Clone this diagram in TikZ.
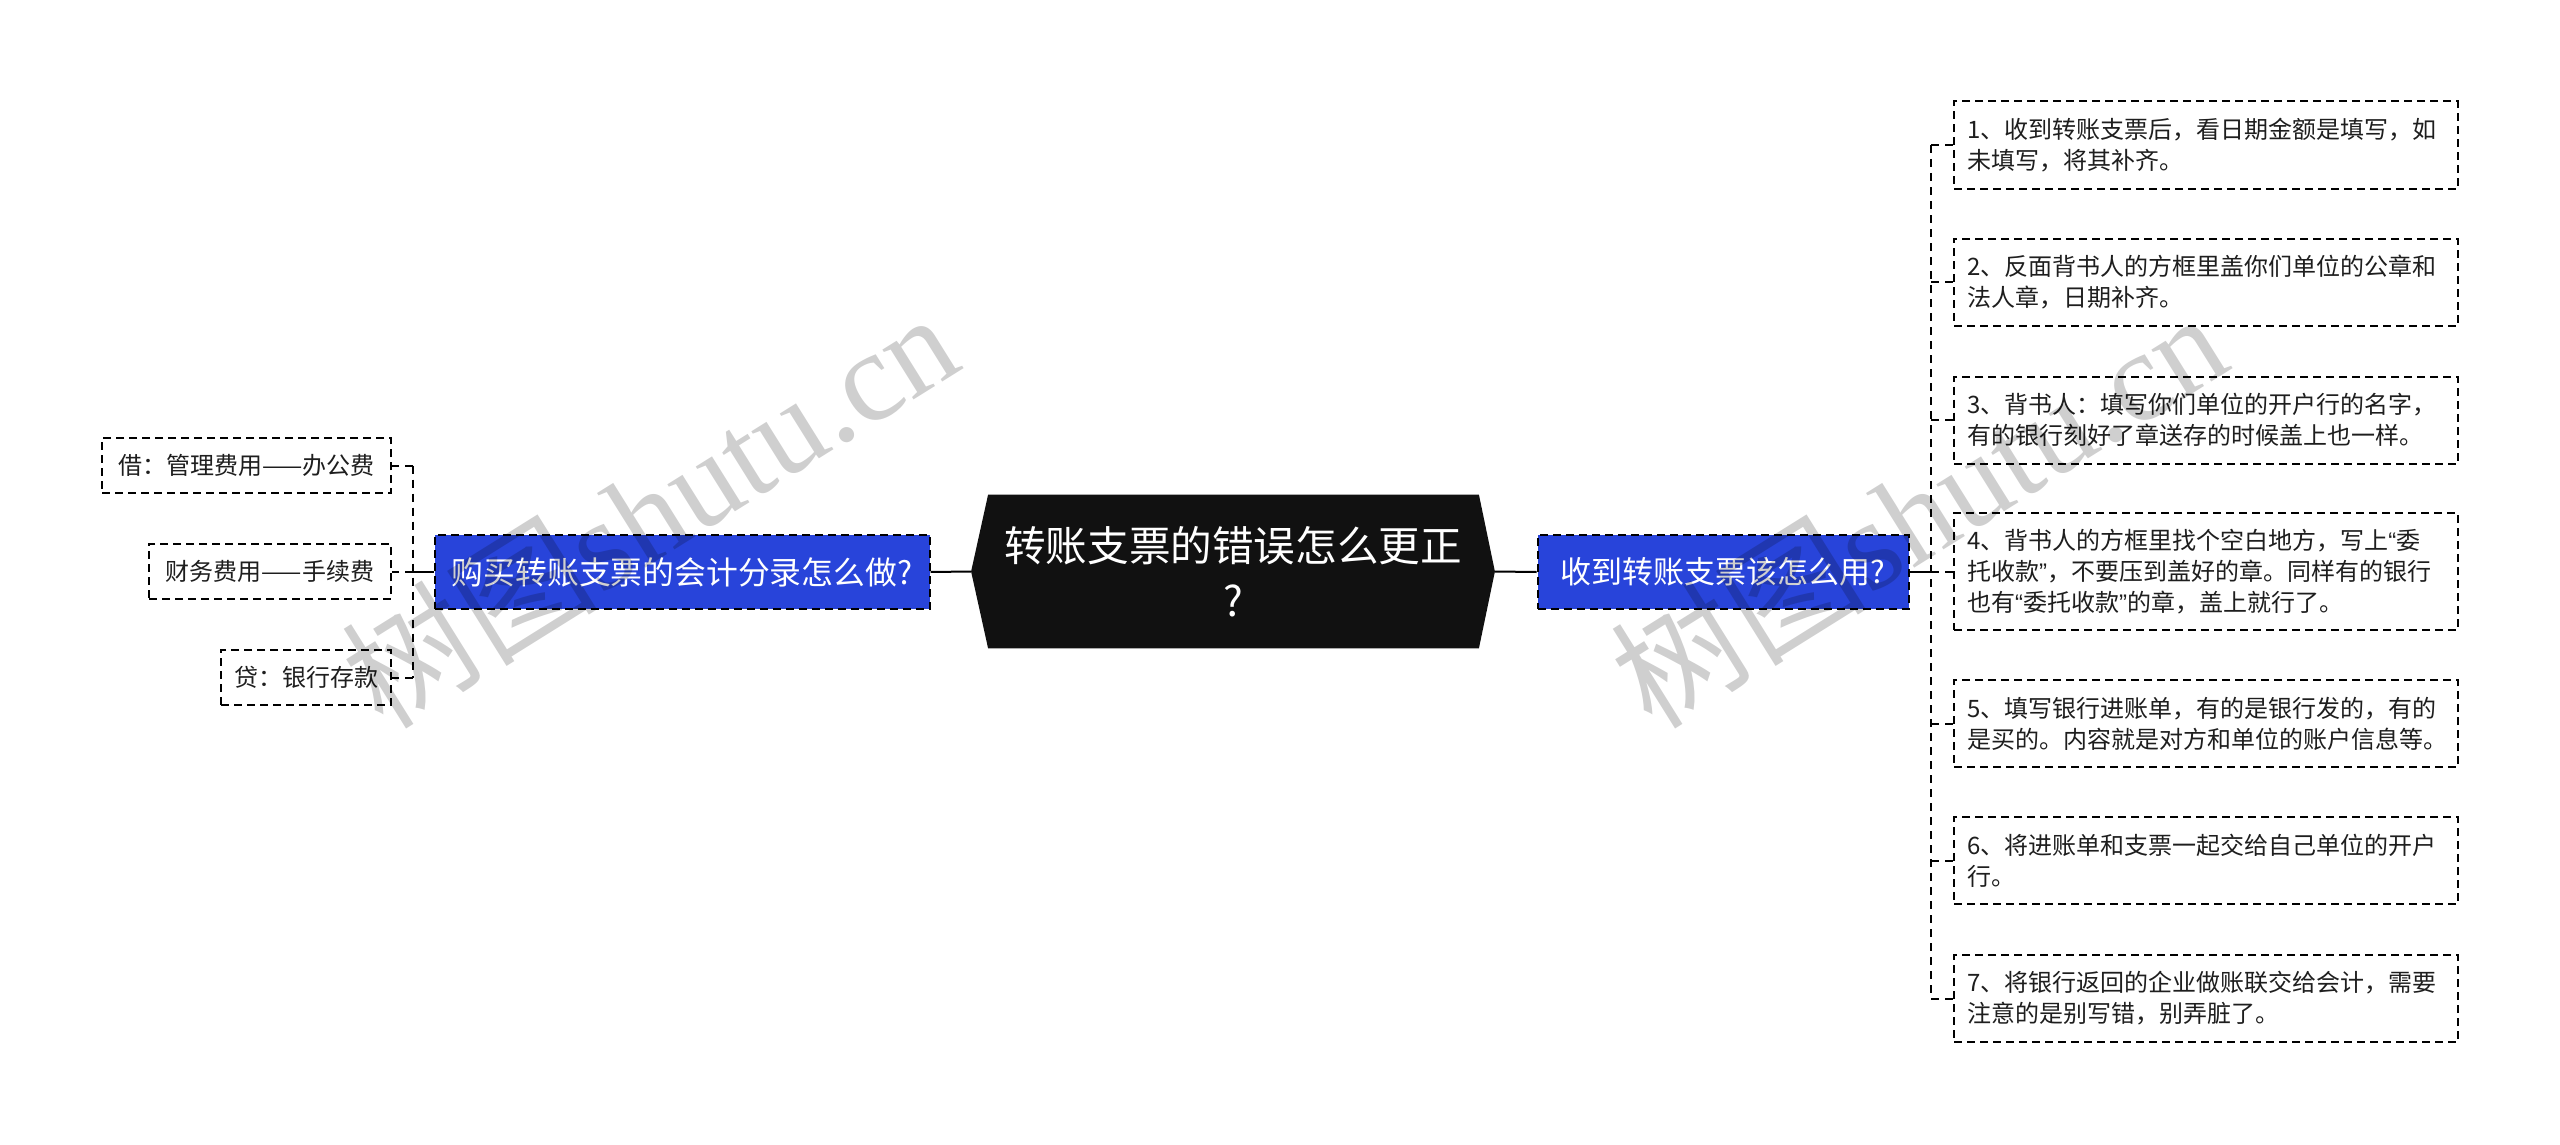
\documentclass[tikz,border=0pt]{standalone}
\usepackage{fontspec}
\setmainfont{Noto Sans CJK SC}
\newfontfamily\wmlatin{Liberation Serif}
\newfontfamily\qf{Liberation Sans}
\usetikzlibrary{calc}
\pgfdeclarelayer{bg}
\pgfsetlayers{bg,main}
\definecolor{bluebox}{RGB}{40,68,218}
\definecolor{darkbox}{RGB}{17,17,17}
\definecolor{leaftext}{RGB}{30,30,30}
\newcommand{\myLQ}{{\qf “}}
\newcommand{\myRQ}{{\qf ”}}
\begin{document}
\begin{tikzpicture}[x=0.5pt,y=-0.5pt,
  conn/.style={line width=1pt, black},
  dconn/.style={line width=1pt, black, dash pattern=on 4pt off 3pt},
  leaf/.style={draw=black, line width=1pt, dash pattern=on 4pt off 2.5pt,
    inner xsep=6.5pt, inner ysep=0pt, text=leaftext,
    font=\fontsize{12pt}{15.5pt}\selectfont},
  rleaf/.style={leaf, anchor=west, align=left, text width=239pt},
  lleaf/.style={leaf, anchor=east, align=center, inner xsep=0pt, minimum height=27.5pt},
  two/.style={minimum height=43.5pt},
  three/.style={minimum height=58.5pt},
  bluenode/.style={draw=black, fill=bluebox, line width=1pt, dash pattern=on 4pt off 2.5pt,
    text=white, minimum height=37pt, inner xsep=0pt, inner ysep=0pt},
  wm/.style={rotate=32, text=black, opacity=0.19, font=\fontsize{64pt}{64pt}\selectfont}
]
\useasboundingbox (0,0) rectangle (2560,1145);

% central topic
\node[minimum width=261.5pt, minimum height=76.5pt, inner sep=0pt, align=center,
      text=white, font=\fontsize{20.8pt}{27.5pt}\selectfont] (c) at (1233,571.5)
      {转账支票的错误怎么更正\\?};
\begin{pgfonlayer}{bg}
\fill[white] (0,0) rectangle (2560,1145);
\fill[darkbox] (c.west) -- ($(c.north west)+(17,0)$) -- ($(c.north east)+(-16,0)$)
  -- (c.east) -- ($(c.south east)+(-16,0)$) -- ($(c.south west)+(17,0)$) -- cycle;
\end{pgfonlayer}

% main branches
\node[bluenode, minimum width=247.5pt, font=\fontsize{15.9pt}{20pt}\selectfont] (lb) at (682,572)
  {购买转账支票的会计分录怎么做?};
\node[bluenode, minimum width=185.5pt, font=\fontsize{15.5pt}{19pt}\selectfont] (rb) at (1723,572)
  {收到转账支票该怎么用?};

\draw[conn] (c.west) -- (lb.east);
\draw[conn] (c.east) -- (rb.west);

% right leaves
\node[rleaf, two]   (r1) at (1953,145)   {1、收到转账支票后，看日期金额是填写，如\\未填写，将其补齐。};
\node[rleaf, two]   (r2) at (1953,282)   {2、反面背书人的方框里盖你们单位的公章和\\法人章，日期补齐。};
\node[rleaf, two]   (r3) at (1953,420)   {3、背书人：填写你们单位的开户行的名字，\\有的银行刻好了章送存的时候盖上也一样。};
\node[rleaf, three] (r4) at (1953,571.5) {4、背书人的方框里找个空白地方，写上\myLQ 委\\托收款\myRQ ，不要压到盖好的章。同样有的银行\\也有\myLQ 委托收款\myRQ 的章，盖上就行了。};
\node[rleaf, two]   (r5) at (1953,723.5) {5、填写银行进账单，有的是银行发的，有的\\是买的。内容就是对方和单位的账户信息等。};
\node[rleaf, two]   (r6) at (1953,860.5) {6、将进账单和支票一起交给自己单位的开户\\行。};
\node[rleaf, two]   (r7) at (1953,998.5) {7、将银行返回的企业做账联交给会计，需要\\注意的是别写错，别弄脏了。};

\coordinate (rj) at (1931,572);
\draw[conn] (rb.east) -- (rj);
\draw[dconn] (rj |- r1.west) -- (rj |- r7.west);
\foreach \n in {r1,r2,r3,r4,r5,r6,r7}
  \draw[dconn] (rj |- \n.west) -- (\n.west);

% left leaves
\node[lleaf, minimum width=144.5pt] (l1) at (392,465.5) {借：管理费用——办公费};
\node[lleaf, minimum width=121pt]   (l2) at (392,571.5) {财务费用——手续费};
\node[lleaf, minimum width=85pt]    (l3) at (392,677.5) {贷：银行存款};

\coordinate (lj) at (413,572);
\draw[conn] (lb.west) -- (lj);
\draw[dconn] (lj |- l1.east) -- (lj |- l3.east);
\foreach \n in {l1,l2,l3}
  \draw[dconn] (lj |- \n.east) -- (\n.east);

% watermarks
\node[wm] (wm1) at (649,508) {树图{\wmlatin shutu.cn}};
\node[wm] (wm2) at (1918,508) {树图{\wmlatin shutu.cn}};
\end{tikzpicture}
\end{document}
